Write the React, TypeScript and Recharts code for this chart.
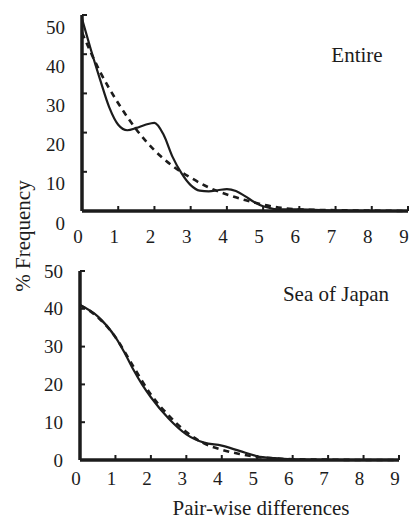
import React from 'react';
import { LineChart, Line, XAxis, YAxis } from 'recharts';

// Entire population
const entireObsX = [0, 0.25, 0.5, 0.75, 1, 1.25, 1.5, 1.75, 2, 2.25, 2.5, 2.75, 3, 3.25, 3.5, 3.75, 4, 4.25, 4.5, 4.75, 5, 5.5, 6, 7, 8, 9];
const entireObs = [49, 41, 33.5, 26.5, 22, 20.6, 21.2, 22, 22.5, 19.5, 13.8, 9.6, 6.6, 5.2, 5.0, 5.3, 5.6, 5.1, 3.8, 2.3, 1.2, 0.4, 0.4, 0.1, 0, 0];
const entireExpX = [0, 0.5, 1, 1.5, 2, 2.5, 3, 3.5, 4, 4.5, 5, 5.5, 6, 7, 8, 9];
const entireExp = [45.5, 35.5, 27.5, 20.8, 15.5, 11.5, 8.5, 6.0, 4.2, 2.8, 1.6, 0.8, 0.4, 0.2, 0.1, 0];

// Sea of Japan
const japanObsX = [0, 0.5, 1, 1.25, 1.5, 1.75, 2, 2.5, 3, 3.5, 4, 4.5, 5, 5.5, 6, 7, 8, 9];
const japanObs = [41, 38, 32.5, 28.5, 24, 20, 16.6, 11, 6.8, 4.6, 3.8, 2.4, 1.0, 0.5, 0.2, 0, 0, 0];
const japanExpX = [0, 0.5, 1, 1.5, 2, 2.5, 3, 3.5, 4, 4.5, 5, 5.5, 6, 7, 8, 9];
const japanExp = [41, 37.8, 32.5, 24.8, 17.3, 11.8, 7.4, 4.4, 2.7, 1.6, 0.8, 0.4, 0.2, 0.1, 0, 0];

const xTicks = [0, 1, 2, 3, 4, 5, 6, 7, 8, 9];
const yTicks = [0, 10, 20, 30, 40, 50];

const FONT = '"Liberation Serif", "Times New Roman", serif';
const INK = '#1c1c1c';

const toRows = (xs: number[], ys: number[]) => xs.map((x, i) => ({ x, y: ys[i] }));

const makeYTick = (labelDy: number) => (props: any) => {
  const { x, y, payload } = props;
  return (
    <g>
      <line x1={x} y1={y} x2={x + 5} y2={y} stroke={INK} strokeWidth={2} />
      <text x={x - 17} y={y + labelDy} dy="0.35em" textAnchor="end" fontFamily={FONT} fontSize={19} fill={INK}>
        {payload.value}
      </text>
    </g>
  );
};

const makeXTick = (labelDy: number) => (props: any) => {
  const { x, y, payload } = props;
  return (
    <g>
      <line x1={x} y1={y} x2={x} y2={y - 5} stroke={INK} strokeWidth={2} />
      <text x={x - 4} y={y + labelDy} dy="0.35em" textAnchor="middle" fontFamily={FONT} fontSize={19} fill={INK}>
        {payload.value}
      </text>
    </g>
  );
};

interface PanelProps {
  top: number;
  height: number;
  margin: { top: number; right: number; left: number; bottom: number };
  obs: { x: number; y: number }[];
  exp: { x: number; y: number }[];
  yLabelDy: number;
  xLabelDy: number;
}

const Panel: React.FC<PanelProps> = ({ top, height, margin, obs, exp, yLabelDy, xLabelDy }) => (
  <div style={{ position: 'absolute', left: 0, top }}>
    <LineChart width={415} height={height} margin={margin}>
      <XAxis
        dataKey="x"
        type="number"
        domain={[0, 9]}
        ticks={xTicks}
        allowDuplicatedCategory={false}
        height={30}
        tickSize={0}
        tickMargin={0}
        tickLine={false}
        axisLine={{ stroke: INK, strokeWidth: 3.5 }}
        tick={makeXTick(xLabelDy)}
        interval={0}
      />
      <YAxis
        type="number"
        domain={[0, 50]}
        ticks={yTicks}
        width={60}
        tickSize={0}
        tickMargin={0}
        tickLine={false}
        axisLine={{ stroke: INK, strokeWidth: 3.5 }}
        tick={makeYTick(yLabelDy)}
        interval={0}
      />
      <Line data={exp} dataKey="y" type="monotone" stroke={INK} strokeWidth={2.6} strokeDasharray="6 5" dot={false} isAnimationActive={false} />
      <Line data={obs} dataKey="y" type="monotone" stroke={INK} strokeWidth={2.2} dot={false} isAnimationActive={false} />
    </LineChart>
  </div>
);

export default function App() {
  return (
    <div style={{ position: 'absolute', left: 0, top: 0, width: 415, height: 520, background: '#fff' }}>
      <Panel
        top={0}
        height={250}
        margin={{ top: 15, right: 7, left: 22, bottom: 9 }}
        obs={toRows(entireObsX, entireObs)}
        exp={toRows(entireExpX, entireExp)}
        yLabelDy={12}
        xLabelDy={25}
      />
      <Panel
        top={250}
        height={270}
        margin={{ top: 21, right: 16, left: 20, bottom: 30 }}
        obs={toRows(japanObsX, japanObs)}
        exp={toRows(japanExpX, japanExp)}
        yLabelDy={0}
        xLabelDy={18}
      />
      <svg width={415} height={520} style={{ position: 'absolute', left: 0, top: 0, pointerEvents: 'none' }}>
        <text x={357} y={62} textAnchor="middle" fontFamily={FONT} fontSize={21} fill={INK}>Entire</text>
        <text x={336} y={301} textAnchor="middle" fontFamily={FONT} fontSize={21} fill={INK}>Sea of Japan</text>
        <text x={30} y={236} transform="rotate(-90 30 236)" textAnchor="middle" fontFamily={FONT} fontSize={21} fill={INK}>% Frequency</text>
        <text x={261} y={515} textAnchor="middle" fontFamily={FONT} fontSize={21} fill={INK}>Pair-wise differences</text>
      </svg>
    </div>
  );
}
